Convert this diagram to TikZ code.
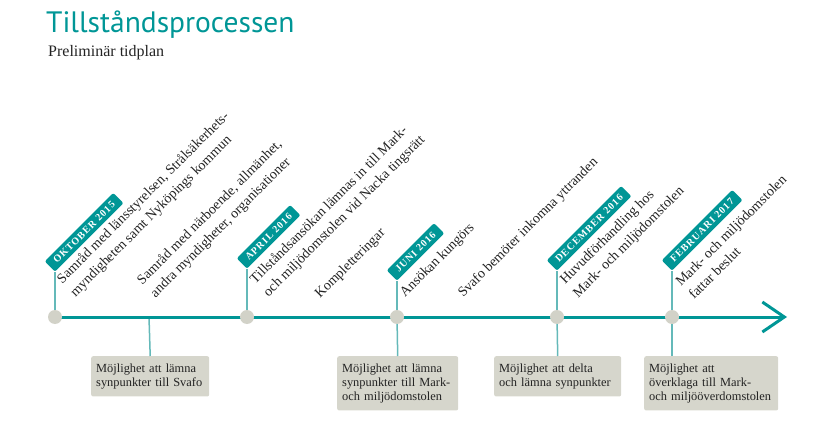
\documentclass[tikz,border=0pt]{standalone}
\usepackage{fontspec}
\setmainfont{Liberation Serif}
\newfontfamily\titlefont{PT Sans}
\newfontfamily\tagfont[LetterSpace=10]{Liberation Serif}
\usetikzlibrary{arrows.meta,calc,positioning}
\definecolor{svteal}{RGB}{0,150,150}
\definecolor{svlight}{RGB}{100,185,185}
\definecolor{svgrey}{RGB}{214,214,204}
\definecolor{svdot}{RGB}{210,210,200}
\definecolor{svtext}{RGB}{35,35,35}

\begin{document}
\begin{tikzpicture}[x=1pt, y=1pt,
    tag/.style={fill=svteal, text=white, rounded corners=2pt,
                rotate=45, anchor=south west, minimum height=14.5pt,
                inner xsep=7pt, inner ysep=0pt,
                font=\tagfont\bfseries\fontsize{10}{10}\selectfont},
    event/.style={rotate=45, anchor=north west, inner sep=0pt,
                  align=left, text=svtext,
                  font=\fontsize{14}{18.5}\selectfont},
    info/.style={fill=svgrey, rounded corners=2pt, anchor=north west,
                 align=left, text=svtext, inner xsep=5pt, inner ysep=7.5pt,
                 font=\fontsize{12.4}{14}\selectfont},
    dot/.style={circle, fill=svdot, minimum size=14pt, inner sep=0pt},
    stem/.style={svlight, line width=1.5pt},
    axis/.style={svteal, line width=3pt}]

  \useasboundingbox (0,0) rectangle (840,-430);

  %% Heading
  \node[anchor=base west, inner sep=0pt, text=svteal,
        font=\titlefont\fontsize{29.5}{32}\selectfont] (title) at (46,-33)
    {Tillståndsprocessen};
  \node[anchor=base west, inner sep=0pt, text=svtext,
        font=\fontsize{16}{18}\selectfont] (sub) at (48,-57)
    {Preliminär tidplan};

  %% Points on the time axis
  \coordinate (d1) at (55,-317);
  \coordinate (t1) at (149,-317);
  \coordinate (d2) at (247,-317);
  \coordinate (d3) at (397,-317);
  \coordinate (d4) at (557,-317);
  \coordinate (d5) at (672,-317);
  \coordinate (tip) at (787,-317);

  %% Date tags
  \node[tag] (m1) at (55,-272)  {OKTOBER 2015};
  \node[tag] (m2) at (247,-269) {APRIL 2016};
  \node[tag] (m3) at (397,-281) {JUNI 2016};
  \node[tag] (m4) at (557,-271) {DECEMBER 2016};
  \node[tag] (m5) at (672,-271) {FEBRUARI 2017};

  %% Events, read along the diagonal
  \node[event] (e1) at (55,-277)
    {Samråd med länsstyrelsen, Strålsäkerhets-\\myndigheten samt Nyköpings kommun};
  \node[event] (e2) at (135,-278)
    {Samråd med närboende, allmänhet,\\andra myndigheter, organisationer};
  \node[event] (e3) at (248,-277)
    {Tillståndsansökan lämnas in till Mark-\\och miljödomstolen vid Nacka tingsrätt};
  \node[event] (e4) at (313,-292) {Kompletteringar};
  \node[event] (e5) at (398,-291) {Ansökan kungörs};
  \node[event] (e6) at (456,-291) {Svafo bemöter inkomna yttranden};
  \node[event] (e7) at (558,-278)
    {Huvudförhandling hos\\Mark- och miljödomstolen};
  \node[event] (e8) at (674,-280)
    {Mark- och miljödomstolen\\fattar beslut};

  %% Boxes below the axis
  \node[info, text width=108pt] (b1) at (91,-356)
    {Möjlighet att lämna\\synpunkter till Svafo};
  \node[info, text width=111pt] (b2) at (337,-356)
    {Möjlighet att lämna\\synpunkter till Mark-\\och miljödomstolen};
  \node[info, text width=117pt] (b3) at (494,-356)
    {Möjlighet att delta\\och lämna synpunkter};
  \node[info, text width=124pt] (b4) at (644,-356)
    {Möjlighet att\\överklaga till Mark-\\och miljööverdomstolen};

  %% Stems
  \draw[stem] (d1) -- (m1.south west);
  \draw[stem] (d2) -- (m2.south west);
  \draw[stem] (d3) -- (m3.south west);
  \draw[stem] (d4) -- (m4.south west);
  \draw[stem] (d5) -- (m5.south west);
  \draw[stem] (t1) -- (b1.north);
  \draw[stem] (d3) -- (b2.north);
  \draw[stem] (d4) -- (b3.north);
  \draw[stem] (d5) -- (d5 |- b4.north);

  %% Time axis
  \draw[axis, -{Straight Barb[length=22pt, width=30pt]}] (d1) -- (tip);

  \node[dot] (p1) at (d1) {};
  \node[dot] (p2) at (d2) {};
  \node[dot] (p3) at (d3) {};
  \node[dot] (p4) at (d4) {};
  \node[dot] (p5) at (d5) {};
\end{tikzpicture}
\end{document}
